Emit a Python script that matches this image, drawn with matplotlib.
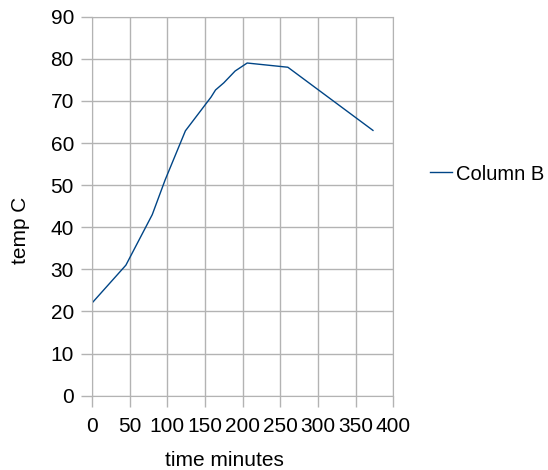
import matplotlib.pyplot as plt

# Values
time_minutes = [0, 45, 80, 97, 124, 158, 164, 175, 190, 206, 260, 373]
temp_c = [22, 31, 43, 51.2, 62.9, 70.9, 72.6, 74.3, 77.1, 79, 78, 63]
x_ticks = [0, 50, 100, 150, 200, 250, 300, 350, 400]
y_ticks = [0, 10, 20, 30, 40, 50, 60, 70, 80, 90]

plt.rcParams['font.family'] = ['Liberation Sans', 'DejaVu Sans']

fig = plt.figure(figsize=(5.48, 4.70), dpi=100)
ax = fig.add_axes([92 / 548, 1 - 395.7 / 470, (393.3 - 92) / 548, (395.7 - 16.7) / 470])

grid_col = '#b3b3b3'
ax.plot(time_minutes, temp_c, color='#004586', linewidth=1.0, label='Column B')

ax.set_xlim(0, 400)
ax.set_ylim(0, 90)
ax.set_xticks(x_ticks)
ax.set_yticks(y_ticks)
ax.grid(True, color=grid_col, linewidth=1.0)
ax.set_axisbelow(True)
for s in ax.spines.values():
    s.set_color(grid_col)
ax.tick_params(axis='both', colors=grid_col, labelcolor='black', labelsize=15,
               length=8, width=1.0, direction='out')
ax.tick_params(axis='x', pad=7)
ax.tick_params(axis='y', pad=5)

# axis titles sit a little off-centre in the reference
ax.set_xlabel('time minutes', fontsize=15, va='center')
ax.xaxis.set_label_coords(0.438, -0.17)
ax.set_ylabel('temp C', fontsize=15, va='center')
ax.yaxis.set_label_coords(-0.236, 0.437)

fig.legend(loc='center left', bbox_to_anchor=(430 / 548, 1 - 174 / 470),
           frameon=False, fontsize=14.5, handlelength=1.1, handletextpad=0.2,
           borderpad=0, borderaxespad=0)

fig.savefig('out.png', dpi=100)
